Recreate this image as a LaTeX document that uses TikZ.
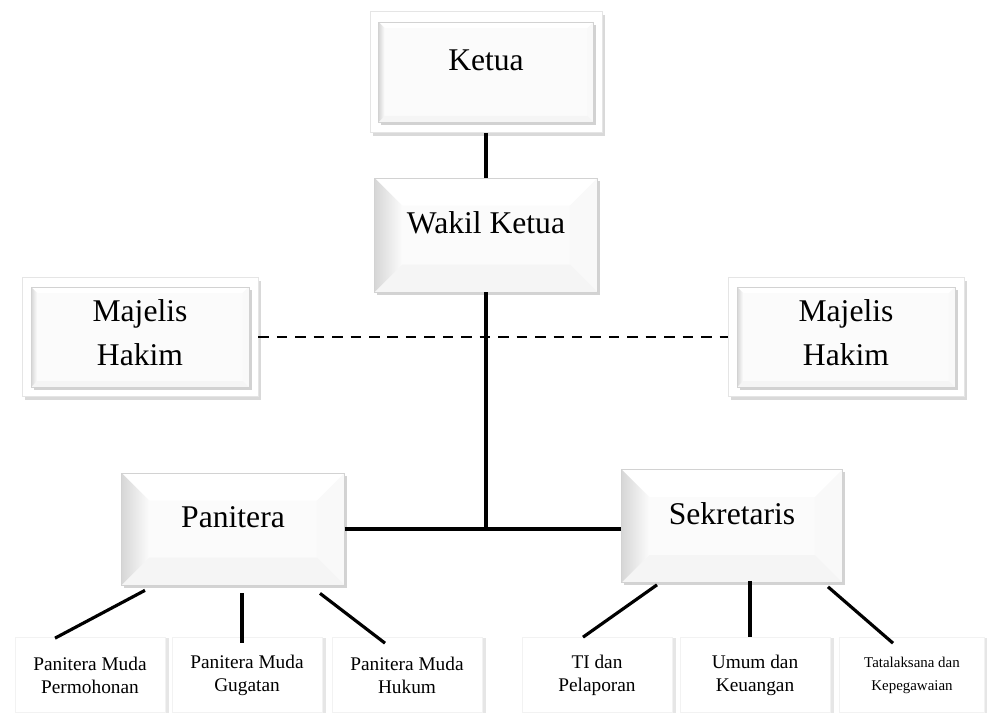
\documentclass[tikz,border=0pt]{standalone}
\usepackage{fontspec}
\setmainfont{Liberation Serif}
\usetikzlibrary{calc, shadows}

\begin{document}
\begin{tikzpicture}[x=0.02cm, y=-0.02cm,
    kotak/.style={draw=gray!35, fill=gray!3, align=center,
        font=\rmfamily\fontsize{18}{25}\selectfont,
        drop shadow={opacity=0.35, shadow xshift=1.5pt, shadow yshift=-1.5pt},
        path picture={
            \coordinate (nw) at (path picture bounding box.north west);
            \coordinate (ne) at (path picture bounding box.north east);
            \coordinate (sw) at (path picture bounding box.south west);
            \coordinate (se) at (path picture bounding box.south east);
            \fill[white] (nw) -- ($(nw)+(#1,-#1)$) -- ($(ne)+(-#1,-#1)$) -- (ne) -- cycle;
            \fill[gray!5] (ne) -- ($(ne)+(-#1,-#1)$) -- ($(se)+(-#1,#1)$) -- (se) -- cycle;
            \fill[gray!8] (sw) -- ($(sw)+(#1,#1)$) -- ($(se)+(-#1,#1)$) -- (se) -- cycle;
            \shade[left color=gray!32, right color=gray!3]
                (nw) -- ($(nw)+(#1,-#1)$) -- ($(sw)+(#1,#1)$) -- (sw) -- cycle;
        }},
    kotak/.default=0.55cm,
    satu/.style={text depth=14pt},
    bingkai/.style={draw=gray!20, fill=white,
        drop shadow={opacity=0.3, shadow xshift=1.5pt, shadow yshift=-2pt}},
    anak/.style={draw=gray!10, fill=white, align=center,
        minimum width=3cm, minimum height=1.5cm,
        font=\rmfamily\fontsize{11}{13}\selectfont,
        drop shadow={opacity=0.2, shadow xshift=2.5pt, shadow yshift=0pt}},
    garis/.style={line width=2.8pt},
    cabang/.style={line width=1.8pt}]
    \useasboundingbox (0,0) rectangle (987,714);

    % Pimpinan
    \node[bingkai, minimum width=4.64cm, minimum height=2.42cm] (ketuaframe) at (486,72) {};
    \node[kotak=0.12cm, satu, minimum width=4.3cm, minimum height=2cm] (ketua) at (ketuaframe) {Ketua};
    \node[kotak, satu, minimum width=4.46cm, minimum height=2.28cm] (wakil) at (486,235) {Wakil Ketua};

    % Majelis Hakim
    \node[bingkai, minimum width=4.72cm, minimum height=2.38cm] (mhlframe) at (140,337) {};
    \node[kotak=0.12cm, text depth=5pt, minimum width=4.36cm, minimum height=2cm] (mhl) at (mhlframe) {Majelis\\Hakim};
    \node[bingkai, minimum width=4.72cm, minimum height=2.38cm] (mhrframe) at (846,337) {};
    \node[kotak=0.12cm, text depth=5pt, minimum width=4.36cm, minimum height=2cm] (mhr) at (mhrframe) {Majelis\\Hakim};

    % Panitera dan Sekretaris
    \node[kotak, satu, minimum width=4.46cm, minimum height=2.24cm] (panitera) at (233,529) {Panitera};
    \node[kotak, satu, minimum width=4.42cm, minimum height=2.26cm] (sekretaris) at (732,526) {Sekretaris};

    % Bagian bawah
    \node[anak] (pmp) at (90,675) {Panitera Muda\\Permohonan};
    \node[anak] (pmg) at (247,675) {Panitera Muda\\Gugatan};
    \node[anak] (pmh) at (407,675) {Panitera Muda\\Hukum};
    \node[anak] (tip) at (597,675) {TI dan\\Pelaporan};
    \node[anak] (uk) at (755,675) {Umum dan\\Keuangan};
    \node[anak, minimum width=2.9cm, font=\rmfamily\fontsize{8.5}{13}\selectfont] (tk) at (912,675) {Tatalaksana dan\\Kepegawaian};

    % Garis
    \draw[line width=1.2pt, dash pattern=on 6pt off 4.5pt] (mhlframe.east) -- (mhrframe.west);
    \coordinate (simpul) at (wakil.south |- panitera.east);
    \draw[garis] (ketuaframe.south) -- (wakil.north);
    \draw[garis] (wakil.south) -- (simpul);
    \draw[garis] (panitera.east) -- (panitera.east -| sekretaris.west);

    \draw[cabang] ($(panitera.south)+(-88,5)$) -- ($(pmp.north)+(-35,1)$);
    \draw[cabang] ($(panitera.south)+(9,8)$) -- ($(pmg.north)+(-5,6)$);
    \draw[cabang] ($(panitera.south)+(87,8)$) -- ($(pmh.north)+(-22,6)$);
    \draw[cabang] ($(sekretaris.south)+(-75,2)$) -- ($(tip.north)+(-14,0)$);
    \draw[cabang] ($(sekretaris.south)+(18,-2)$) -- ($(uk.north)+(-5,0)$);
    \draw[cabang] ($(sekretaris.south)+(96,4)$) -- ($(tk.north)+(-19,6)$);
\end{tikzpicture}
\end{document}
